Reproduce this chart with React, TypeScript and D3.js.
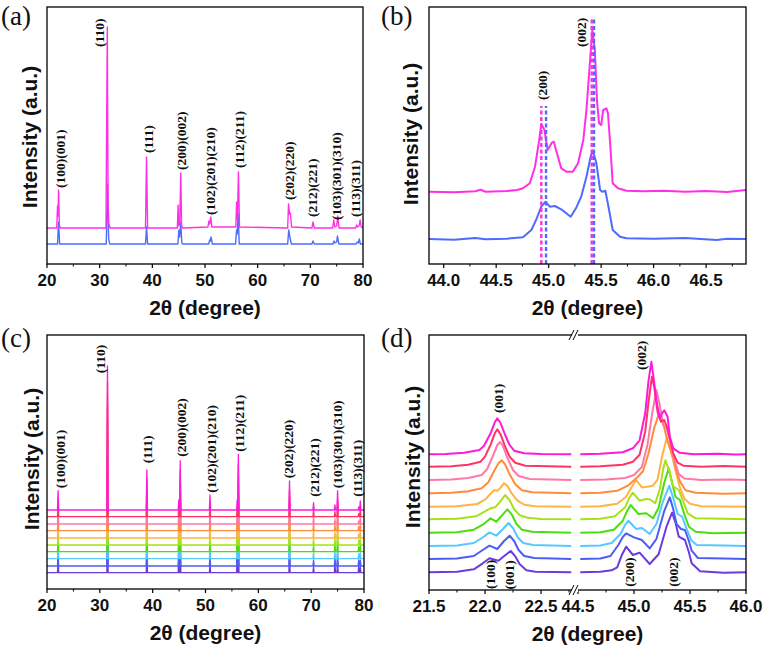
import React from 'react';
import * as d3 from 'd3';

type P = [number, number];

// ---------------- Panel (a) ----------------
const aTicks = [20, 30, 40, 50, 60, 70, 80];
const aMinor = [25, 35, 45, 55, 65, 75];
const aPink: P[] = [[20,36],[21.85,36],[22.0,58],[22.08,48],[22.2,74],[22.35,38],[22.6,36],
  [31.2,36],[31.45,237],[31.6,60],[31.75,40],[32.0,36],[38.7,36],[38.9,107],[39.1,36],
  [44.75,36],[44.9,59],[45.0,38],[45.2,40],[45.4,91],[45.55,38],[45.8,36],
  [50.55,37],[50.75,43],[50.9,40],[51.1,47],[51.3,37],[55.85,37],[56.0,62],[56.15,45],[56.35,92],[56.55,37],
  [65.7,36],[65.86,60],[66.05,50],[66.2,51],[66.45,37],[70.3,36],[70.5,42],[70.75,36],
  [74.25,36],[74.45,44],[74.65,37],[75.0,38],[75.2,48],[75.45,36],
  [78.6,36],[78.8,39],[79.0,37],[79.25,38],[79.45,44],[79.65,37],[80,36]];
const aBlue: P[] = [[20,20],[22.0,20],[22.2,42],[22.4,20],[31.25,20],[31.5,80],[31.7,26],[31.9,20],
  [38.7,20],[38.9,37],[39.1,20],[44.85,20],[45.05,34],[45.2,27],[45.4,42],[45.6,21],[45.8,20],
  [50.7,20],[50.9,24],[51.0,23],[51.15,27],[51.4,20],[55.8,20],[56.0,34],[56.12,30],[56.3,51],[56.5,20],
  [65.7,20],[65.9,34],[66.15,26],[66.4,20],[70.3,20],[70.5,23],[70.75,20],
  [74.3,20],[74.5,23],[74.7,21],[75.0,22],[75.15,28],[75.4,20],[78.7,20],[78.9,22],[79.1,21],[79.3,25],[79.5,20],[80,20]];
const aLabelText = ['(100)(001)','(110)','(111)','(200)(002)','(102)(201)(210)','(112)(211)','(202)(220)','(212)(221)','(103)(301)(310)','(113)(311)'];
const aLabelX = [22.5, 30.05, 39.2, 45.55, 51.1, 56.6, 66.0, 70.5, 75.0, 78.6];
const aLabelY = [76, 217, 111, 94, 49, 96, 64, 47, 44, 47];

// ---------------- Panel (b) ----------------
const bTicks = [44.0, 44.5, 45.0, 45.5, 46.0, 46.5];
const bMinor = [44.25, 44.75, 45.25, 45.75, 46.25, 46.75];
const bPink: P[] = [[43.86,72.3],[44.1,71.7],[44.3,72.7],[44.35,74.3],[44.4,72.3],[44.6,73],[44.7,74],[44.755,75.7],
  [44.82,80.7],[44.87,97.3],[44.91,124],[44.93,140],[44.96,134],[44.99,114],[45.03,121.3],[45.05,122.3],[45.07,114],
  [45.12,95.7],[45.17,92.3],[45.23,92.3],[45.28,100.7],[45.33,124],[45.36,154],[45.39,197.3],[45.416,234],[45.44,214],
  [45.46,164],[45.48,140.7],[45.5,139],[45.52,154],[45.55,155.7],[45.565,150.7],[45.59,114],[45.61,80.7],[45.66,75.7],
  [45.74,73.3],[45.9,72.7],[46.1,73.3],[46.3,72.3],[46.5,73],[46.7,72],[46.88,74]];
const bBlue: P[] = [[43.86,25],[44.1,24.3],[44.3,26],[44.4,24.7],[44.6,25.3],[44.755,26.7],[44.835,34],[44.88,44],
  [44.93,57.3],[44.97,62.3],[45.01,57.3],[45.06,58],[45.12,54.7],[45.21,47.3],[45.26,55.7],[45.31,67.3],[45.36,87.3],
  [45.4,107.3],[45.42,113.3],[45.455,100.7],[45.49,74],[45.51,72.3],[45.54,73.3],[45.57,57.3],[45.61,34],[45.68,27.3],
  [45.74,25.7],[46.0,25.3],[46.3,26],[46.6,24],[46.7,25.3],[46.88,25]];
const bDashX = [44.93, 44.975, 45.41, 45.432];
const bDashTop = [158, 158, 247, 247];
const bLabelText = ['(200)', '(002)'];
const bLabelX = [44.94, 45.31];
const bLabelY = [164, 217];

// ---------------- Panel (c) ----------------
const cOffsets = [79, 72.3, 65, 58.3, 51, 44, 37.3, 30.3, 23, 16.3];
const cPos = [22.1, 31.45, 38.9, 44.95, 45.22, 50.85, 56.0, 56.22, 65.9, 70.45, 74.5, 75.0, 79.0, 79.3];
const cHeights = [
  [19.3, 144, 40, 10, 49.3, 15, 10, 55.7, 29, 7.3, 5, 19.3, 3, 9],
  [18, 135, 38, 10, 46, 14, 10, 52, 27, 7, 5, 18, 3, 8],
  [17, 130, 36, 11, 44, 13, 11, 50, 26, 7, 5, 17, 3, 8],
  [16, 125, 34, 12, 42, 13, 12, 48, 25, 7, 6, 16, 4, 8],
  [15, 120, 32, 14, 38, 12, 14, 44, 24, 7, 6, 15, 4, 7],
  [15, 115, 30, 16, 34, 12, 16, 40, 23, 6, 7, 14, 5, 7],
  [14, 110, 29, 18, 32, 11, 17, 38, 22, 6, 8, 14, 5, 7],
  [14, 105, 28, 19, 30, 11, 18, 36, 21, 6, 8, 13, 5, 6],
  [13, 100, 27, 20, 28, 10, 19, 34, 20, 6, 9, 13, 6, 6],
  [13, 95, 26, 20, 26, 10, 20, 32, 20, 6, 9, 12, 6, 6],
];
const cLabelText = aLabelText;
const cLabelX = [22.5, 30.06, 39.1, 45.4, 51.1, 56.5, 65.8, 70.7, 75.0, 78.8];
const cLabelY = [100.7, 215.7, 125.7, 132.3, 96.3, 137.3, 110.7, 92.3, 100.7, 92.3];

// ---------------- Panel (d) ----------------
const dTicksL = [21.5, 22.0, 22.5];
const dTicksR = [44.5, 45.0, 45.5, 46.0];
const dMinorL = [21.75, 22.25, 22.75];
const dMinorR = [44.75, 45.25, 45.75];
const dOffsets = [135.7, 123.3, 110, 96.7, 83.3, 70.7, 57.3, 44, 31, 17.7];
const dLeft: P[][] = [
  [[21.5,0],[21.65,0.3],[21.815,1.6],[21.95,4.3],[21.99,8.3],[22.05,21],[22.09,32.6],[22.11,36],[22.14,31],[22.18,19.3],[22.22,9.3],[22.26,3.6],[22.35,1],[22.5,0.3],[22.77,0]],
  [[21.5,0],[21.7,0.5],[21.85,2],[21.96,5],[22.0,10],[22.05,22],[22.09,34],[22.11,37.4],[22.14,32],[22.18,20],[22.22,10],[22.27,4],[22.36,1],[22.77,0]],
  [[21.5,0],[21.7,0.5],[21.85,2],[21.97,5],[22.02,11],[22.07,24],[22.11,35],[22.135,38],[22.16,34],[22.2,22],[22.25,10],[22.3,4],[22.4,1],[22.77,0]],
  [[21.5,0],[21.7,0.5],[21.85,2],[21.97,5],[22.03,11],[22.08,22],[22.12,30],[22.15,33],[22.18,29],[22.22,19],[22.27,9],[22.33,3],[22.42,1],[22.77,0]],
  [[21.5,0],[21.75,0.5],[21.93,2.7],[22.0,7],[22.05,13],[22.08,16.5],[22.11,16],[22.14,19],[22.17,23.5],[22.2,21],[22.24,13],[22.29,6],[22.35,2],[22.45,0.5],[22.77,0]],
  [[21.5,0],[21.75,0.5],[21.92,3],[22.0,8],[22.05,11],[22.09,12],[22.13,17],[22.18,24.3],[22.22,19],[22.26,10],[22.31,4],[22.38,1.5],[22.5,0.3],[22.77,0]],
  [[21.5,0],[21.75,0.5],[21.9,3],[21.98,8],[22.05,14.4],[22.1,11],[22.15,17],[22.2,23.4],[22.24,18],[22.28,9],[22.33,3],[22.42,1],[22.77,0]],
  [[21.5,0],[21.75,0.5],[21.9,3],[21.98,8.5],[22.04,13.6],[22.1,10.3],[22.16,17],[22.21,23],[22.25,18],[22.29,9],[22.34,3],[22.43,1],[22.77,0]],
  [[21.5,0],[21.75,0.5],[21.9,3],[21.98,9],[22.04,13.3],[22.11,10],[22.17,18],[22.22,23.3],[22.26,18],[22.3,9],[22.35,3],[22.44,1],[22.77,0]],
  [[21.5,0],[21.75,0.5],[21.9,3],[21.98,9],[22.04,14],[22.12,11.6],[22.18,17],[22.23,21.3],[22.27,16],[22.31,8],[22.37,2],[22.45,0.5],[22.77,0]],
];
const dRight: P[][] = [
  [[44.52,0],[44.7,0.5],[44.9,2],[44.99,6],[45.05,14],[45.1,41],[45.13,74],[45.155,92.5],[45.17,81],[45.2,54],[45.23,36],[45.25,41],[45.27,44],[45.3,37.5],[45.32,17.5],[45.35,6],[45.41,1.5],[45.53,0],[45.75,0.6],[45.9,-0.3],[46.0,0]],
  [[44.52,0],[44.7,0.5],[44.9,2],[44.99,5],[45.05,12],[45.1,35],[45.13,65],[45.16,90],[45.18,80],[45.21,55],[45.24,45],[45.27,46.7],[45.3,38],[45.35,13.4],[45.39,4],[45.44,1],[45.6,0],[45.8,0.6],[46.0,0]],
  [[44.52,0],[44.75,0.5],[44.92,2],[45.0,5],[45.07,13],[45.12,35],[45.16,65],[45.2,90],[45.23,75],[45.26,55],[45.29,52],[45.32,40],[45.36,20],[45.4,6],[45.45,1.5],[45.6,0],[45.85,0.5],[46.0,0]],
  [[44.52,0],[44.7,0.5],[44.85,2.5],[44.95,8],[45.03,16],[45.08,22],[45.13,40],[45.18,65],[45.22,79],[45.26,70],[45.3,52],[45.35,36],[45.38,22],[45.41,12],[45.46,3],[45.55,0.5],[45.8,-0.4],[46.0,0]],
  [[44.52,0],[44.7,0.5],[44.85,3],[44.93,10],[44.98,20],[45.02,26.7],[45.07,19.3],[45.12,20],[45.17,21],[45.21,27],[45.25,50],[45.29,68],[45.32,60],[45.35,46],[45.38,32],[45.41,19.3],[45.45,8],[45.5,3],[45.6,0.5],[45.8,0.2],[46.0,0]],
  [[44.52,0],[44.7,0.5],[44.83,3],[44.92,12],[44.96,22],[44.99,26.6],[45.05,18.6],[45.1,20],[45.14,20],[45.19,16],[45.23,30],[45.26,50],[45.28,59],[45.31,50],[45.35,33],[45.4,29.3],[45.44,18],[45.48,6],[45.55,1],[45.8,0.5],[46.0,0]],
  [[44.52,0],[44.7,0.5],[44.82,3],[44.9,12],[44.94,22],[44.97,27.7],[45.04,18.7],[45.11,19.4],[45.17,14.4],[45.22,25],[45.27,50],[45.31,64.4],[45.34,50],[45.37,36],[45.41,32.7],[45.45,18],[45.49,6],[45.55,1],[45.7,-0.5],[46.0,0]],
  [[44.52,0],[44.7,0.5],[44.8,3],[44.88,12],[44.92,21],[44.95,25.3],[45.02,17],[45.07,18],[45.14,12],[45.2,22],[45.26,45],[45.315,60.3],[45.35,48],[45.39,32],[45.43,29.3],[45.47,17],[45.51,6],[45.56,1],[45.8,0.4],[46.0,0]],
  [[44.52,0],[44.7,0.5],[44.79,3],[44.86,14],[44.9,22],[44.93,25.6],[45.0,21.6],[45.07,19],[45.14,10.6],[45.2,20],[45.27,48],[45.32,61.6],[45.35,50],[45.38,35],[45.42,30],[45.455,29],[45.49,18],[45.515,8.3],[45.57,1],[45.8,0.5],[46.0,0]],
  [[44.52,0],[44.7,0.5],[44.8,2],[44.85,5],[44.89,17],[44.93,25.6],[44.99,17.3],[45.05,19.6],[45.14,8.3],[45.22,18],[45.29,45.6],[45.34,59.6],[45.37,50],[45.4,35.6],[45.455,32.3],[45.49,20],[45.515,9],[45.59,1],[45.8,-0.5],[46.0,0]],
];
const dLabelText = ['(001)', '(002)', '(100)', '(001)', '(200)', '(002)'];
const dLabelSide = ['L', 'R', 'L', 'L', 'R', 'R'];
const dLabelX = [22.12, 45.07, 22.05, 22.22, 44.96, 45.35];
const dLabelY = [177, 220, 1, 0.5, 3.3, 3.3];

// ---------------- colours ----------------
const pinkA = '#ff2fe6';
const blueA = '#4d6bff';
const stackColors = ['#ff1ad9', '#ff3366', '#ff79a6', '#ff8c3a', '#ffb347', '#a6e21a', '#4cdd10', '#55c8ff', '#4d5cf5', '#6b3be0'];

const sans = '"Liberation Sans", Arial, Helvetica, sans-serif';
const serif = '"Liberation Serif", "Times New Roman", serif';

function spikes(pos: number[], hts: number[], x0: number, x1: number): P[] {
  const w = 0.12;
  const pts: P[] = [[x0, 0]];
  pos.forEach((p, i) => { pts.push([p - w, 0], [p, hts[i]], [p + w, 0]); });
  pts.push([x1, 0]);
  return pts;
}

type Frame = { l: number; r: number; t: number; b: number };

function Box({ f }: { f: Frame }) {
  return <rect x={f.l} y={f.t} width={f.r - f.l} height={f.b - f.t} fill="none" stroke="#000" strokeWidth={1.3} />;
}

function XAxis({ f, x, ticks, minor, fmt }: { f: Frame; x: (v: number) => number; ticks: number[]; minor: number[]; fmt: (v: number) => string }) {
  return (
    <g>
      {ticks.map((t, i) => (
        <g key={'t' + i}>
          <line x1={x(t)} x2={x(t)} y1={f.b} y2={f.b + 4} stroke="#000" strokeWidth={1.2} />
          <text x={x(t)} y={f.b + 22} textAnchor="middle" fontFamily={sans} fontWeight="bold" fontSize={17} fill="#111">{fmt(t)}</text>
        </g>
      ))}
      {minor.map((t, i) => (
        <line key={'m' + i} x1={x(t)} x2={x(t)} y1={f.b} y2={f.b + 2.5} stroke="#000" strokeWidth={1} />
      ))}
    </g>
  );
}

function AxisTitles({ f, ycx, ycy }: { f: Frame; ycx: number; ycy: number }) {
  return (
    <g>
      <text x={(f.l + f.r) / 2} y={f.b + 51} textAnchor="middle" fontFamily={sans} fontWeight="bold" fontSize={21} fill="#111">2θ (degree)</text>
      <text transform={`translate(${ycx},${ycy}) rotate(-90)`} textAnchor="middle" dominantBaseline="central" fontFamily={sans} fontWeight="bold" fontSize={21} fill="#111">Intensity (a.u.)</text>
    </g>
  );
}

function PeakLabel({ x, y, t }: { x: number; y: number; t: string }) {
  return (
    <text transform={`translate(${x},${y}) rotate(-90)`} textAnchor="start" dominantBaseline="central" fontFamily={serif} fontWeight="bold" fontSize={13.5} fill="#111">{t}</text>
  );
}

export default function App() {
  const fa: Frame = { l: 47, r: 363, t: 7, b: 264 };
  const fb: Frame = { l: 429, r: 746, t: 7, b: 264 };
  const fc: Frame = { l: 47, r: 364, t: 335, b: 589 };
  const fd: Frame = { l: 429, r: 746, t: 335, b: 590 };

  const xa = d3.scaleLinear().domain([20, 80]).range([fa.l, fa.r]);
  const ya = d3.scaleLinear().domain([0, 257]).range([fa.b, fa.t]);
  const xb = d3.scaleLinear().domain([43.86, 46.88]).range([fb.l, fb.r]);
  const yb = d3.scaleLinear().domain([0, 257]).range([fb.b, fb.t]);
  const xc = d3.scaleLinear().domain([20, 80]).range([fc.l, fc.r]);
  const yc = d3.scaleLinear().domain([0, 254]).range([fc.b, fc.t]);
  const xdL = d3.scaleLinear().domain([21.5, 22.5]).range([429, 541]);
  const xdR = d3.scaleLinear().domain([44.5, 46.0]).range([578, 746]);
  const yd = d3.scaleLinear().domain([0, 255]).range([fd.b, fd.t]);

  const lineA = d3.line<P>().x(d => xa(d[0])).y(d => ya(d[1]));
  const lineB = d3.line<P>().x(d => xb(d[0])).y(d => yb(d[1]));

  const f1 = (v: number) => v.toFixed(1);
  const f0 = (v: number) => String(v);

  const cOrder = d3.range(cOffsets.length).reverse();

  return (
    <svg width={763} height={647} style={{ position: 'absolute', left: 0, top: 0, background: '#fff' }}>
      <rect x={0} y={0} width={763} height={647} fill="#fff" />

      {/* ---------- (a) ---------- */}
      <path d={lineA(aBlue) || ''} fill="none" stroke={blueA} strokeWidth={1.4} strokeLinejoin="round" />
      <path d={lineA(aPink) || ''} fill="none" stroke={pinkA} strokeWidth={1.4} strokeLinejoin="round" />
      {aLabelText.map((t, i) => <PeakLabel key={i} x={xa(aLabelX[i])} y={ya(aLabelY[i])} t={t} />)}
      <Box f={fa} />
      <XAxis f={fa} x={xa} ticks={aTicks} minor={aMinor} fmt={f0} />
      <AxisTitles f={fa} ycx={29} ycy={137} />
      <text x={1} y={25} fontFamily={serif} fontSize={27} fill="#111">(a)</text>

      {/* ---------- (b) ---------- */}
      <path d={lineB(bBlue) || ''} fill="none" stroke={blueA} strokeWidth={2} strokeLinejoin="round" />
      <path d={lineB(bPink) || ''} fill="none" stroke={pinkA} strokeWidth={2} strokeLinejoin="round" />
      {bDashX.map((x, i) => (
        <line key={i} x1={xb(x)} x2={xb(x)} y1={yb(0)} y2={yb(bDashTop[i])} stroke={i % 2 === 0 ? pinkA : blueA} strokeWidth={2.4} strokeDasharray="4,2.5" />
      ))}
      {bLabelText.map((t, i) => <PeakLabel key={i} x={xb(bLabelX[i])} y={yb(bLabelY[i])} t={t} />)}
      <Box f={fb} />
      <XAxis f={fb} x={xb} ticks={bTicks} minor={bMinor} fmt={f1} />
      <AxisTitles f={fb} ycx={410} ycy={134} />
      <text x={381} y={25} fontFamily={serif} fontSize={27} fill="#111">(b)</text>

      {/* ---------- (c) ---------- */}
      {cOrder.map(k => {
        const pts = spikes(cPos, cHeights[k], 20, 80);
        const ln = d3.line<P>().x(d => xc(d[0])).y(d => yc(d[1] + cOffsets[k]));
        return <path key={k} d={ln(pts) || ''} fill="none" stroke={stackColors[k]} strokeWidth={1.3} strokeLinejoin="round" />;
      })}
      {cLabelText.map((t, i) => <PeakLabel key={i} x={xc(cLabelX[i])} y={yc(cLabelY[i])} t={t} />)}
      <Box f={fc} />
      <XAxis f={fc} x={xc} ticks={aTicks} minor={aMinor} fmt={f0} />
      <AxisTitles f={fc} ycx={31} ycy={459} />
      <text x={1} y={347} fontFamily={serif} fontSize={27} fill="#111">(c)</text>

      {/* ---------- (d) ---------- */}
      {cOrder.map(k => {
        const lnL = d3.line<P>().x(d => xdL(d[0])).y(d => yd(d[1] + dOffsets[k]));
        const lnR = d3.line<P>().x(d => xdR(d[0])).y(d => yd(d[1] + dOffsets[k]));
        return (
          <g key={k}>
            <path d={lnL(dLeft[k]) || ''} fill="none" stroke={stackColors[k]} strokeWidth={2} strokeLinejoin="round" />
            <path d={lnR(dRight[k]) || ''} fill="none" stroke={stackColors[k]} strokeWidth={2} strokeLinejoin="round" />
          </g>
        );
      })}
      {dLabelText.map((t, i) => {
        const x = dLabelSide[i] === 'L' ? xdL(dLabelX[i]) : xdR(dLabelX[i]);
        return <PeakLabel key={i} x={x} y={yd(dLabelY[i])} t={t} />;
      })}
      <Box f={fd} />
      <XAxis f={fd} x={xdL} ticks={dTicksL} minor={dMinorL} fmt={f1} />
      <XAxis f={fd} x={xdR} ticks={dTicksR} minor={dMinorR} fmt={f1} />
      {[fd.t, fd.b].map((yy, i) => (
        <g key={i}>
          <rect x={572} y={yy - 2} width={6} height={4} fill="#fff" />
          <line x1={569} y1={yy + 5} x2={574} y2={yy - 5} stroke="#000" strokeWidth={1} />
          <line x1={573} y1={yy + 5} x2={578} y2={yy - 5} stroke="#000" strokeWidth={1} />
        </g>
      ))}
      <AxisTitles f={fd} ycx={412} ycy={457} />
      <text x={381} y={347} fontFamily={serif} fontSize={27} fill="#111">(d)</text>
    </svg>
  );
}
